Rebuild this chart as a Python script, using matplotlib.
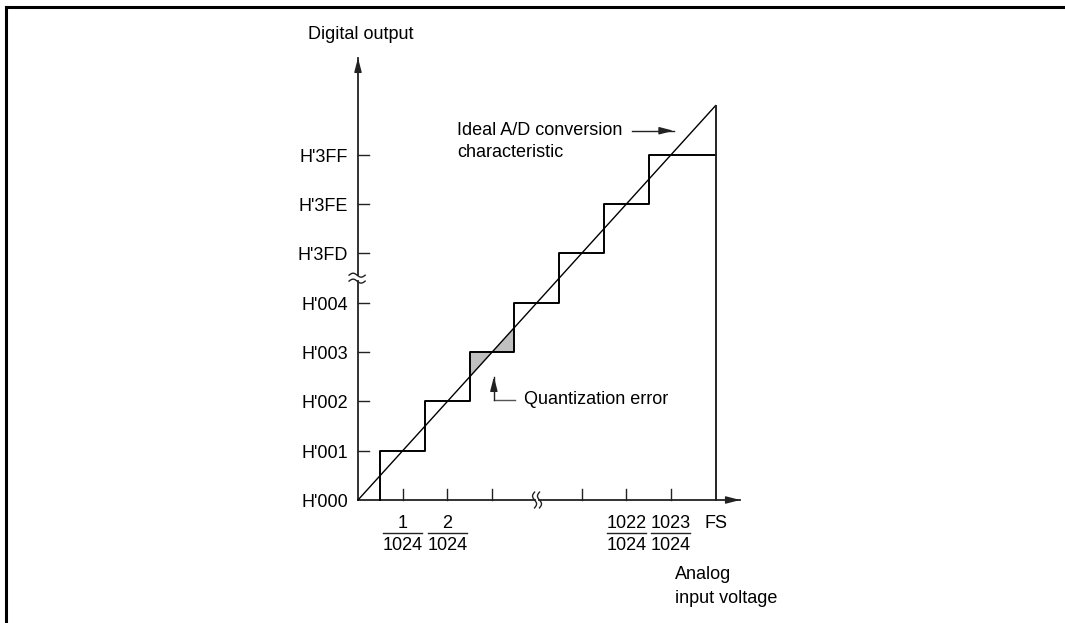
import numpy as np
import matplotlib.pyplot as plt
from matplotlib.lines import Line2D

plt.rcParams['font.family'] = ['Liberation Sans', 'DejaVu Sans']

# Output codes on the y axis (one LSB per row, break between H'004 and H'3FD)
code_labels = ["H'000", "H'001", "H'002", "H'003", "H'004", "H'3FD", "H'3FE", "H'3FF"]
code_levels = [0, 1, 2, 3, 4, 5, 6, 7]

# Input voltage ticks on the x axis (in LSB steps, FS = 8)
x_ticks = [1, 2, 3, 5, 6, 7]
frac_pos = [1, 2, 6, 7]
frac_num = ["1", "2", "1022", "1023"]
frac_den = ["1024", "1024", "1024", "1024"]
fs_pos = 8

# Staircase: transition points and output level after each transition
step_edges = [0.5, 1.5, 2.5, 3.5, 4.5, 5.5, 6.5, 8]
step_levels = [1, 2, 3, 4, 5, 6, 7]

# Shaded quantization error triangles
err_tri1 = ([2.5, 2.5, 3.0], [2.5, 3.0, 3.0])
err_tri2 = ([3.0, 3.5, 3.5], [3.0, 3.0, 3.5])

fig = plt.figure(figsize=(10.65, 6.23), dpi=100)
ax = fig.add_axes([0, 0, 1, 1])
# one data unit = 1 LSB; origin at pixel (358, 500)
ax.set_xlim(-358 / 44.7, (1065 - 358) / 44.7)
ax.set_ylim((500 - 623) / 49.3, 500 / 49.3)
ax.axis('off')

lc = '#222222'
fs = 13
head = dict(arrowstyle='-|>,head_length=0.85,head_width=0.22', color=lc, lw=1.0,
            shrinkA=0, shrinkB=0)


def arrow(x0, y0, x1, y1, lw=1.3, color=lc):
    # shaft as a plain line, head as a short annotate at the tip
    ax.plot([x0, x1], [y0, y1], color=color, lw=lw)
    d = np.hypot(x1 - x0, y1 - y0)
    bx, by = x1 - (x1 - x0) / d * 0.15, y1 - (y1 - y0) / d * 0.15
    ax.annotate('', xy=(x1, y1), xytext=(bx, by), arrowprops=head)


# frame (top + left only)
fig.add_artist(Line2D([6 / 1065, 1064 / 1065], [1 - 7 / 623, 1 - 7 / 623], color='k', lw=2.2))
fig.add_artist(Line2D([6 / 1065, 6 / 1065], [0, 1 - 7 / 623], color='k', lw=2.2))

# quantization error fill
ax.fill(*err_tri1, color='#c0c0c0', lw=0)
ax.fill(*err_tri2, color='#c0c0c0', lw=0)

# y axis with break
ybrk = 4.5
ax.plot([0, 0], [0, ybrk - 0.06], color=lc, lw=1.3)
arrow(0, ybrk + 0.06, 0, 8.97)
t = np.linspace(0, 1, 40)
for off in (-0.06, 0.06):
    ax.plot(-0.2 + 0.36 * t, ybrk + off + 0.04 * np.sin(2 * np.pi * t), color=lc, lw=1.0)

# x axis with break
xbrk = 4.0
ax.plot([0, xbrk - 0.05], [0, 0], color=lc, lw=1.3)
arrow(xbrk + 0.05, 0, 8.55, 0)
for off in (-0.05, 0.06):
    ax.plot(xbrk + off + 0.045 * np.sin(2 * np.pi * t), -0.16 + 0.32 * t, color=lc, lw=1.0)

# ticks and labels
for lv, lab in zip(code_levels, code_labels):
    if lv > 0:
        ax.plot([0, 0.246], [lv, lv], color=lc, lw=1.0)
    ax.text(-0.224, lv - 0.14, lab, ha='right', va='baseline', fontsize=fs)
for xt in x_ticks:
    ax.plot([xt, xt], [0, 0.223], color=lc, lw=1.0)
for xp, nm, dn in zip(frac_pos, frac_num, frac_den):
    ax.text(xp, -0.574, nm, ha='center', va='baseline', fontsize=fs)
    ax.text(xp, -1.014, dn, ha='center', va='baseline', fontsize=fs)
    ax.plot([xp - 0.436, xp + 0.436], [-0.663, -0.663], color=lc, lw=1.0)
ax.text(fs_pos, -0.574, 'FS', ha='center', va='baseline', fontsize=fs)

# ideal characteristic
ax.plot([0, fs_pos], [0, fs_pos], color='k', lw=1.0)

# staircase
sx, sy = [step_edges[0]], [0]
for i, lv in enumerate(step_levels):
    sx += [step_edges[i], step_edges[i + 1]]
    sy += [lv, lv]
ax.plot(sx, sy, color='k', lw=1.4)
ax.plot([fs_pos, fs_pos], [0, fs_pos], color=lc, lw=1.4)

# annotations
ax.text(0.07, 9.45, 'Digital output', ha='center', va='center', fontsize=fs)
ax.text(2.21, 7.505, 'Ideal A/D conversion', ha='left', va='center', fontsize=fs)
ax.text(2.21, 7.04, 'characteristic', ha='left', va='center', fontsize=fs)
arrow(6.14, 7.49, 7.06, 7.49, lw=1.0)
ax.plot([3.04, 3.51], [2.03, 2.03], color='#555555', lw=1.0)
arrow(3.04, 2.03, 3.04, 2.5, lw=1.0)
ax.text(3.71, 2.03, 'Quantization error', ha='left', va='center', fontsize=fs)
ax.text(7.09, -1.52, 'Analog', ha='left', va='center', fontsize=fs)
ax.text(7.09, -1.99, 'input voltage', ha='left', va='center', fontsize=fs)

fig.savefig('out.png', dpi=100)
